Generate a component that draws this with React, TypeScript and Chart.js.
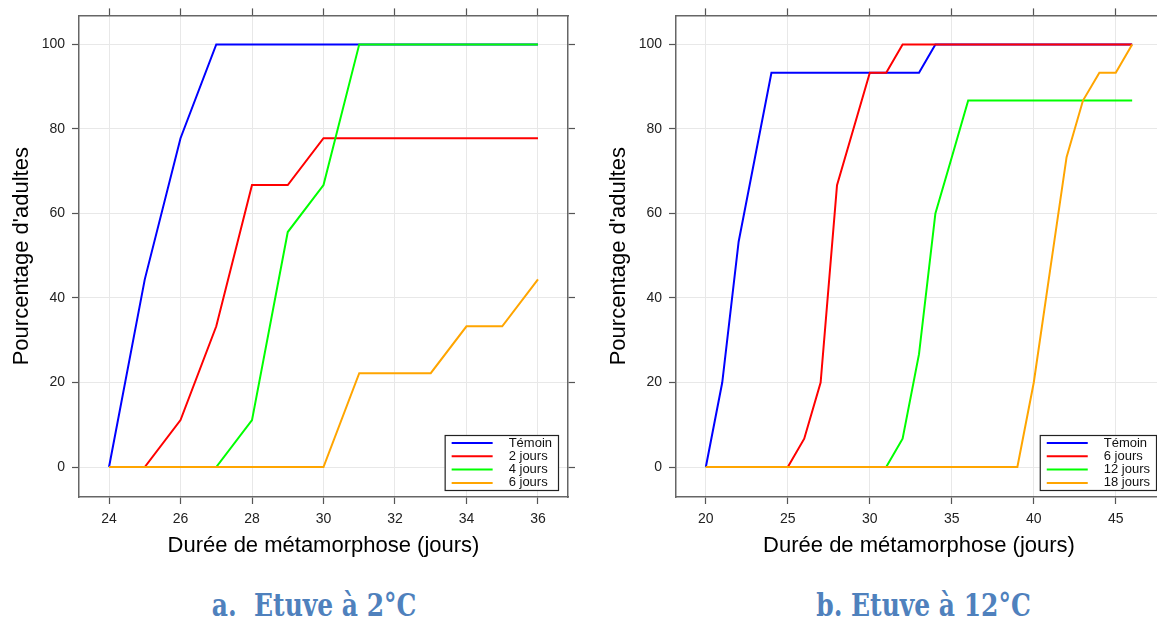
import React, { useEffect, useRef } from "react";
import { Chart, registerables } from "chart.js";

Chart.register(...registerables);

// ---------- Data: panel a (Etuve à 2°C) ----------
const daysA = [24, 25, 26, 27, 28, 29, 30, 31, 32, 33, 34, 35, 36];
const temoinA = [0, 44.4, 77.8, 100, 100, 100, 100, 100, 100, 100, 100, 100, 100];
const jours2A = [0, 0, 11.1, 33.3, 66.7, 66.7, 77.8, 77.8, 77.8, 77.8, 77.8, 77.8, 77.8];
const jours4A = [0, 0, 0, 0, 11.1, 55.6, 66.7, 100, 100, 100, 100, 100, 100];
const jours6A = [0, 0, 0, 0, 0, 0, 0, 22.2, 22.2, 22.2, 33.3, 33.3, 44.4];
const seriesNamesA = ["Témoin", "2 jours", "4 jours", "6 jours"];
const xTicksA = [24, 26, 28, 30, 32, 34, 36];

// ---------- Data: panel b (Etuve à 12°C) ----------
const daysB = [20, 21, 22, 23, 24, 25, 26, 27, 28, 29, 30, 31, 32, 33, 34, 35, 36, 37, 38, 39, 40, 41, 42, 43, 44, 45, 46];
const temoinB = [0, 20, 53.3, 73.3, 93.3, 93.3, 93.3, 93.3, 93.3, 93.3, 93.3, 93.3, 93.3, 93.3, 100, 100, 100, 100, 100, 100, 100, 100, 100, 100, 100, 100, 100];
const jours6B = [0, 0, 0, 0, 0, 0, 6.7, 20, 66.7, 80, 93.3, 93.3, 100, 100, 100, 100, 100, 100, 100, 100, 100, 100, 100, 100, 100, 100, 100];
const jours12B = [0, 0, 0, 0, 0, 0, 0, 0, 0, 0, 0, 0, 6.7, 26.7, 60, 73.3, 86.7, 86.7, 86.7, 86.7, 86.7, 86.7, 86.7, 86.7, 86.7, 86.7, 86.7];
const jours18B = [0, 0, 0, 0, 0, 0, 0, 0, 0, 0, 0, 0, 0, 0, 0, 0, 0, 0, 0, 0, 20, 46.7, 73.3, 86.7, 93.3, 93.3, 100];
const seriesNamesB = ["Témoin", "6 jours", "12 jours", "18 jours"];
const xTicksB = [20, 25, 30, 35, 40, 45];

// ---------- Shared ----------
const yTicks = [0, 20, 40, 60, 80, 100];
const yRange = [-7.092, 106.856];
const xAxisTitle = "Durée de métamorphose (jours)";
const yAxisTitle = "Pourcentage d'adultes";
const captionA = "a.  Etuve à 2°C";
const captionB = "b. Etuve à 12°C";

const lineColors = ["#0000FF", "#FF0000", "#00FF00", "#FFA500"];
const SANS = '"Liberation Sans", Arial, sans-serif';

// lattice-like 7% padding of ranges
function paddedRange(values: number[], frac = 0.07): [number, number] {
  const lo = Math.min(...values);
  const hi = Math.max(...values);
  const d = (hi - lo) * frac;
  return [lo - d, hi + d];
}

const boxLegend = {
  id: "boxLegend",
  afterDatasetsDraw(chart: any, _args: any, opts: any) {
    const { ctx, chartArea } = chart;
    ctx.save();
    ctx.font = `13px ${SANS}`;
    const items = chart.data.datasets.map((d: any) => ({ label: d.label, color: d.borderColor }));
    const maxW = Math.max(...items.map((i: any) => ctx.measureText(i.label).width));
    const w = 64 + maxW + 6;
    const h = 55;
    const right = chartArea.right - (opts.insetX ?? 10);
    const bottom = chartArea.bottom - (opts.insetY ?? 7);
    const left = right - w;
    const top = bottom - h;
    ctx.fillStyle = "#ffffff";
    ctx.fillRect(left, top, w, h);
    items.forEach((it: any, i: number) => {
      const y = top + 8 + i * 13.3;
      ctx.strokeStyle = it.color;
      ctx.lineWidth = 2;
      ctx.beginPath();
      ctx.moveTo(left + 7, y);
      ctx.lineTo(left + 48, y);
      ctx.stroke();
      ctx.fillStyle = "#111";
      ctx.textBaseline = "middle";
      ctx.textAlign = "left";
      ctx.fillText(it.label, left + 64, y);
    });
    ctx.strokeStyle = "#222";
    ctx.lineWidth = 1.2;
    ctx.strokeRect(left + 0.5, top + 0.5, w, h);
    ctx.restore();
  },
};

type PanelProps = {
  days: number[];
  series: number[][];
  names: string[];
  xTicks: number[];
  left: number;
  width: number;
  legendInsetX: number;
};

function Panel({ days, series, names, xTicks, left, width, legendInsetX }: PanelProps) {
  const ref = useRef<HTMLCanvasElement | null>(null);

  useEffect(() => {
    if (!ref.current) return;
    const [xMin, xMax] = paddedRange(days);
    const [yMin, yMax] = yRange;
    const setTicks = (vals: number[]) => (axis: any) => {
      axis.ticks = vals.map((v) => ({ value: v }));
    };
    const tickFont = { family: SANS, size: 14 };
    const titleFont = { family: SANS, size: 22 };
    const gridMain = { color: "#e8e8e8", lineWidth: 1, tickColor: "#555", tickLength: 7, tickWidth: 1.2 };
    const gridSide = { drawOnChartArea: false, tickColor: "#555", tickLength: 7, tickWidth: 1.2 };
    const border = { display: true, color: "#666", width: 1.5 };

    const chart = new Chart(ref.current, {
      type: "line",
      data: {
        datasets: series.map((vals, i) => ({
          label: names[i],
          data: days.map((d, j) => ({ x: d, y: vals[j] })),
          borderColor: lineColors[i],
          backgroundColor: lineColors[i],
          borderWidth: 2,
          pointRadius: 0,
          tension: 0,
          fill: false,
          order: series.length - i,
        })),
      },
      options: {
        animation: false,
        responsive: false,
        devicePixelRatio: 1,
        layout: { padding: { left: 0, top: 8, right: 5, bottom: 0 } },
        plugins: {
          legend: { display: false },
          tooltip: { enabled: false },
          boxLegend: { insetX: legendInsetX, insetY: 7 },
        } as any,
        scales: {
          x: {
            type: "linear",
            position: "bottom",
            min: xMin,
            max: xMax,
            bounds: "data",
            afterBuildTicks: setTicks(xTicks),
            afterFit: (a: any) => {
              a.height = 73;
            },
            grid: gridMain,
            border,
            ticks: { font: tickFont, color: "#222", padding: 7, maxRotation: 0, autoSkip: false },
            title: { display: true, text: xAxisTitle, font: titleFont, color: "#000", padding: { top: 0, bottom: 11 } },
          },
          y: {
            type: "linear",
            position: "left",
            min: yMin,
            max: yMax,
            bounds: "data",
            afterBuildTicks: setTicks(yTicks),
            afterFit: (a: any) => {
              a.width = 79;
            },
            grid: gridMain,
            border,
            ticks: { font: tickFont, color: "#222", padding: 7, autoSkip: false },
            title: { display: true, text: yAxisTitle, font: titleFont, color: "#000", padding: { top: 9, bottom: 0 } },
          },
          x2: {
            type: "linear",
            position: "top",
            min: xMin,
            max: xMax,
            bounds: "data",
            afterBuildTicks: setTicks(xTicks),
            afterFit: (a: any) => {
              a.height = 7;
            },
            grid: gridSide,
            border,
            ticks: { display: false },
          },
          y2: {
            type: "linear",
            position: "right",
            min: yMin,
            max: yMax,
            bounds: "data",
            afterBuildTicks: setTicks(yTicks),
            afterFit: (a: any) => {
              a.width = 7;
            },
            grid: gridSide,
            border,
            ticks: { display: false },
          },
        } as any,
      },
      plugins: [boxLegend as any],
    });
    return () => chart.destroy();
  }, []);

  return (
    <canvas
      ref={ref}
      width={width}
      height={570}
      style={{ position: "absolute", left, top: 0, width, height: 570 }}
    />
  );
}

function Caption({ text, cx }: { text: string; cx: number }) {
  return (
    <div
      style={{
        position: "absolute",
        left: cx - 200,
        top: 589,
        width: 400,
        textAlign: "center",
        lineHeight: 1,
        whiteSpace: "pre",
      }}
    >
      <span
        style={{
          display: "inline-block",
          fontFamily: '"DejaVu Serif", serif',
          fontWeight: "bold",
          fontSize: 32,
          color: "#4F81BD",
          transform: "scaleX(0.78)",
          transformOrigin: "center",
        }}
      >
        {text}
      </span>
    </div>
  );
}

export default function App() {
  return (
    <div
      style={{
        position: "fixed",
        left: 0,
        top: 0,
        width: 1157,
        height: 617,
        overflow: "hidden",
        background: "#ffffff",
      }}
    >
      <Panel
        days={daysA}
        series={[temoinA, jours2A, jours4A, jours6A]}
        names={seriesNamesA}
        xTicks={xTicksA}
        left={0}
        width={580}
        legendInsetX={10}
      />
      <Panel
        days={daysB}
        series={[temoinB, jours6B, jours12B, jours18B]}
        names={seriesNamesB}
        xTicks={xTicksB}
        left={597}
        width={577}
        legendInsetX={6}
      />
      <Caption text={captionA} cx={314} />
      <Caption text={captionB} cx={924} />
    </div>
  );
}
